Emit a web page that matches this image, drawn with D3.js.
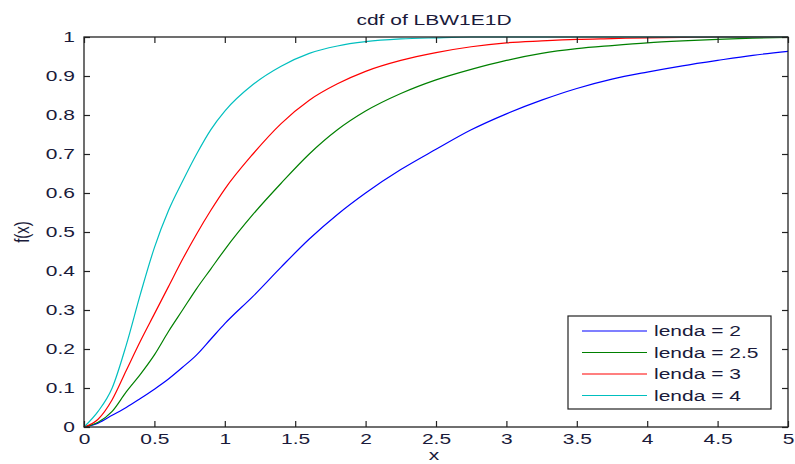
<!DOCTYPE html>
<html>
<head>
<meta charset="utf-8">
<script src="https://cdn.jsdelivr.net/npm/d3@7"></script>
<style>
body { margin: 0; background: #fff; }
text { font-family: "Liberation Sans", Arial, sans-serif; fill: #1a1a3a; font-size: 15px; }
</style>
</head>
<body>
<svg id="chart" width="795" height="464"></svg>
<script>
// x grid shared by all series
var xs = [0, 0.1, 0.2, 0.3, 0.4, 0.5, 0.6, 0.7, 0.8, 0.9, 1.0,
          1.2, 1.4, 1.6, 1.8, 2.0,
          2.25, 2.5, 2.75, 3.0, 3.25, 3.5, 3.75, 4.0, 4.25, 4.5, 4.75, 5.0];

var lenda2 = [0, 0.01, 0.03, 0.05, 0.073, 0.097, 0.123, 0.153, 0.185, 0.225, 0.265,
              0.335, 0.41, 0.482, 0.545, 0.6,
              0.66, 0.712, 0.762, 0.803, 0.838, 0.868, 0.892, 0.91, 0.926, 0.94, 0.953, 0.963];
var lenda25 = [0, 0.012, 0.04, 0.09, 0.135, 0.185, 0.245, 0.30, 0.355, 0.405, 0.455,
               0.545, 0.625, 0.70, 0.762, 0.81,
               0.855, 0.89, 0.917, 0.94, 0.958, 0.97, 0.978, 0.985, 0.99, 0.994, 0.997, 0.999];
var lenda3 = [0, 0.02, 0.07, 0.145, 0.22, 0.29, 0.36, 0.43, 0.495, 0.555, 0.61,
              0.70, 0.778, 0.838, 0.88, 0.912,
              0.94, 0.96, 0.975, 0.985, 0.99, 0.994, 0.996, 0.998, 0.999, 1, 1, 1];
var lenda4 = [0, 0.04, 0.10, 0.21, 0.34, 0.46, 0.555, 0.63, 0.7, 0.762, 0.81,
              0.878, 0.925, 0.958, 0.977, 0.988,
              0.995, 0.998, 1, 1, 1, 1, 1, 1, 1, 1, 1, 1];

var seriesNames = ['lenda = 2', 'lenda = 2.5', 'lenda = 3', 'lenda = 4'];
var seriesColors = ['#0000ff', '#008000', '#ff0000', '#00bfbf'];
var seriesValues = [lenda2, lenda25, lenda3, lenda4];

var xTicks = [0, 0.5, 1, 1.5, 2, 2.5, 3, 3.5, 4, 4.5, 5];
var yTicks = [0, 0.1, 0.2, 0.3, 0.4, 0.5, 0.6, 0.7, 0.8, 0.9, 1];

var margin = {left: 84, top: 37, right: 788, bottom: 427};
var tickLen = 6;
var stretch = 1.4;   // the picture's text is wide

var svg = d3.select('#chart');

var x = d3.scaleLinear().domain([0, 5]).range([margin.left, margin.right]);
var y = d3.scaleLinear().domain([0, 1]).range([margin.bottom, margin.top]);

function wideText(px, py, anchor, str, extra) {
    return svg.append('text')
        .attr('transform', 'translate(' + px + ',' + py + ') scale(' + stretch + ',1)' + (extra || ''))
        .attr('text-anchor', anchor)
        .text(str);
}

// title and labels
wideText(434, 25, 'middle', 'cdf of LBW1E1D');
wideText(434, 460, 'middle', 'x');
wideText(29, 232, 'middle', 'f(x)', ' rotate(-90)');

// series lines
var line = d3.line()
    .curve(d3.curveMonotoneX)
    .x(function(d) { return x(d[0]); })
    .y(function(d) { return y(d[1]); });

svg.append('g').selectAll('path')
        .data(seriesValues)
    .enter().append('path')
        .attr('d', function(vals) { return line(xs.map(function(v, i) { return [v, vals[i]]; })); })
        .attr('fill', 'none')
        .attr('stroke', function(d, i) { return seriesColors[i]; })
        .attr('stroke-width', 1.2);

// axes: bottom/left with labels, top/right ticks only, all ticks inward
function axisStyle(g) {
    g.select('.domain').remove();
    g.selectAll('.tick line').attr('stroke', '#222').attr('stroke-width', 1.2);
    g.selectAll('.tick text')
        .style('font-size', '15px')
        .style('font-family', '"Liberation Sans", Arial, sans-serif')
        .attr('fill', '#1a1a3a');
}

svg.append('g')
    .attr('transform', 'translate(0,' + margin.bottom + ')')
    .call(d3.axisBottom(x).tickValues(xTicks).tickSizeInner(-tickLen).tickSizeOuter(0).tickPadding(6).tickFormat(d3.format('')))
    .call(axisStyle)
    .selectAll('.tick text')
        .attr('transform', 'scale(' + stretch + ',1)');

svg.append('g')
    .attr('transform', 'translate(0,' + margin.top + ')')
    .call(d3.axisTop(x).tickValues(xTicks).tickSizeInner(-tickLen).tickSizeOuter(0).tickFormat(''))
    .call(axisStyle);

svg.append('g')
    .attr('transform', 'translate(' + margin.left + ',0)')
    .call(d3.axisLeft(y).tickValues(yTicks).tickSizeInner(-tickLen).tickSizeOuter(0).tickFormat(d3.format('')))
    .call(axisStyle)
    .selectAll('.tick text')
        .attr('x', -9 / stretch)
        .attr('transform', 'scale(' + stretch + ',1)');

svg.append('g')
    .attr('transform', 'translate(' + margin.right + ',0)')
    .call(d3.axisRight(y).tickValues(yTicks).tickSizeInner(-tickLen).tickSizeOuter(0).tickFormat(''))
    .call(axisStyle);

// box
svg.append('rect')
    .attr('x', margin.left)
    .attr('y', margin.top)
    .attr('width', margin.right - margin.left)
    .attr('height', margin.bottom - margin.top)
    .attr('fill', 'none')
    .attr('stroke', '#222')
    .attr('stroke-width', 1.3);

// legend
var legend = svg.append('g').attr('transform', 'translate(568,316)');
legend.append('rect')
    .attr('width', 203)
    .attr('height', 93)
    .attr('fill', '#fff')
    .attr('stroke', '#222')
    .attr('stroke-width', 1.2);

var items = legend.selectAll('.item')
        .data(seriesNames)
    .enter().append('g')
        .classed('item', true)
        .attr('transform', function(d, i) { return 'translate(0,' + (15 + i * 21.5) + ')'; });

items.append('line')
    .attr('x1', 14)
    .attr('x2', 79)
    .attr('y1', 0)
    .attr('y2', 0)
    .attr('stroke', function(d, i) { return seriesColors[i]; })
    .attr('stroke-width', 1.2);

items.append('text')
    .attr('transform', 'translate(86,5) scale(' + stretch + ',1)')
    .text(function(d) { return d; });
</script>
</body>
</html>
